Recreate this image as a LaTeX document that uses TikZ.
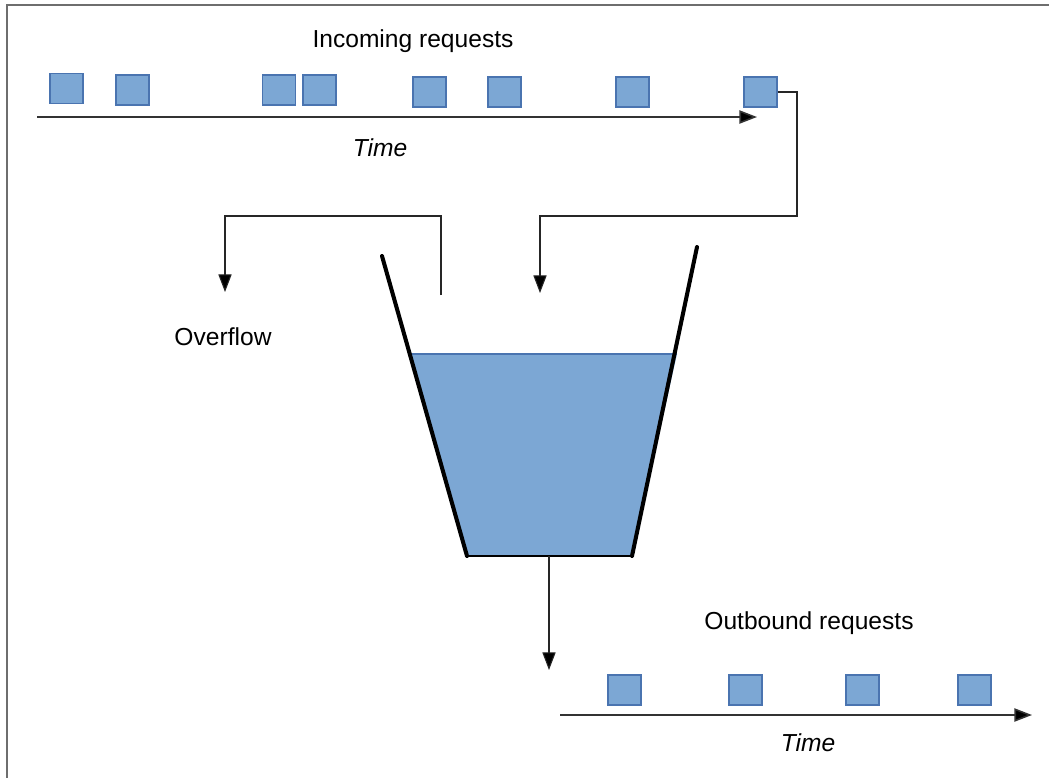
\documentclass[tikz,border=0pt]{standalone}
\usepackage{fontspec}
\setmainfont{Liberation Sans}
\usetikzlibrary{arrows.meta}

\definecolor{reqfill}{RGB}{124,167,212}
\definecolor{reqedge}{RGB}{74,116,176}
\definecolor{framegray}{RGB}{110,110,110}

\tikzset{
  req/.style={draw=reqedge, fill=reqfill, line width=0.6pt, minimum width=0.66cm, minimum height=0.6cm, inner sep=0pt},
  axis/.style={line width=0.9pt, draw=black!80, -{Triangle[length=10pt,width=7.5pt,fill=black]}},
  flow/.style={line width=0.6pt, draw=black!85},
  flowarrow/.style={flow, -{Triangle[length=10pt,width=7.5pt,fill=black]}},
  wall/.style={line width=2.3pt, line cap=round},
  lbl/.style={font=\fontsize{14}{16}\selectfont, inner sep=0pt}
}

\begin{document}
\begin{tikzpicture}[x=0.02cm, y=-0.02cm]
%		\draw[help lines] (0,0) grid (1049,778);
		\useasboundingbox (0,0) rectangle (1049,778);
		\fill[white] (0,0) rectangle (1049,778);
		\draw[framegray, line width=1.3pt] (7,778) -- (7,5) -- (1049,5);

		% incoming side
		\node[lbl] (inlabel) at (413,41) {Incoming requests};
		\node[req] (in1) at (66.5,88.5) {};
		\node[req] (in2) at (132.5,90) {};
		\node[req] (in3) at (279,90) {};
		\node[req] (in4) at (319.5,90) {};
		\node[req] (in5) at (429.5,92) {};
		\node[req] (in6) at (504.5,92) {};
		\node[req] (in7) at (632.5,92) {};
		\node[req] (in8) at (760.5,92) {};
		\coordinate (inaxis0) at (37,117);
		\coordinate (inaxis1) at (757,117);
		\draw[axis] (inaxis0) -- (inaxis1);
		\node[lbl, font=\fontsize{14}{16}\selectfont\itshape] (intime) at (380,148) {Time};

		% bucket
		\coordinate (lwtop) at (382,256);
		\coordinate (rwtop) at (697,247);
		\coordinate (lwbot) at (467,556);
		\coordinate (rwbot) at (632,556);
		\coordinate (lwater) at (410,354);
		\coordinate (rwater) at (677,354);
		\fill[reqfill] (lwater) -- (rwater) -- (rwbot) -- (lwbot) -- cycle;
		\draw[reqedge, line width=0.8pt] (lwater) -- (rwater);
		\draw[black, line width=1.2pt] (lwbot) -- (rwbot);
		\draw[wall] (lwtop) -- (lwbot);
		\draw[wall] (rwtop) -- (rwbot);

		% into the bucket
		\coordinate (inlet) at (540,293);
		\draw[flowarrow] (in8.east) -| (797,216) -| (inlet);

		% overflow
		\node[lbl] (overflow) at (223,337) {Overflow};
		\coordinate (spill) at (441,295);
		\coordinate (spillend) at (225,292);
		\draw[flowarrow] (spill) -- (441,216) -| (spillend);

		% outbound side
		\coordinate (drain) at (549,556);
		\coordinate (drainend) at (549,670);
		\draw[flowarrow] (drain) -- (drainend);
		\node[lbl] (outlabel) at (809,623) {Outbound requests};
		\node[req] (out1) at (624.5,690) {};
		\node[req] (out2) at (745.5,690) {};
		\node[req] (out3) at (862.5,690) {};
		\node[req] (out4) at (974.5,690) {};
		\coordinate (outaxis0) at (560,715);
		\coordinate (outaxis1) at (1032,715);
		\draw[axis] (outaxis0) -- (outaxis1);
		\node[lbl, font=\fontsize{14}{16}\selectfont\itshape] (outtime) at (808,743) {Time};
	\end{tikzpicture}
\end{document}
